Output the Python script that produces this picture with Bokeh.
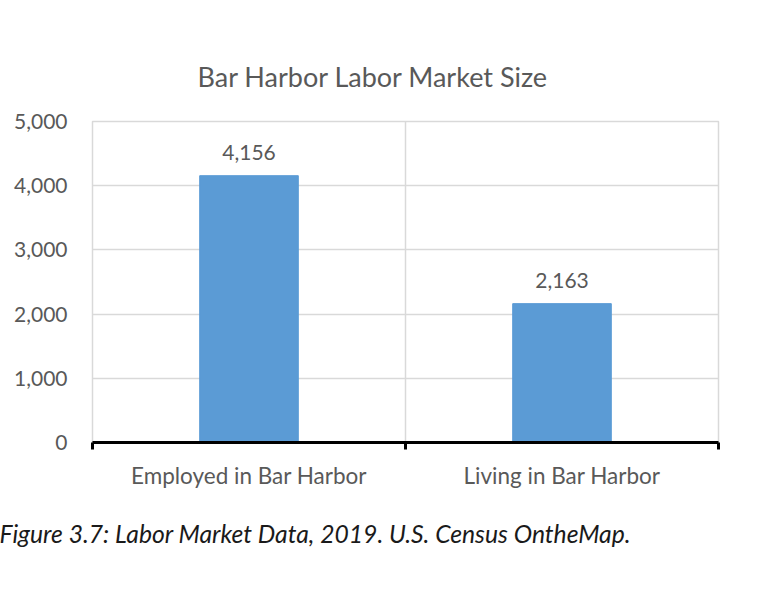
from bokeh.plotting import figure
from bokeh.models import (Range1d, FixedTicker, NumeralTickFormatter, LabelSet,
                          ColumnDataSource, Title, LinearAxis, Grid)
from bokeh.core.properties import value
from bokeh.embed import file_html
from bokeh.resources import INLINE
import numpy as np

categories = ["Employed in Bar Harbor", "Living in Bar Harbor"]
values = [4156, 2163]
y_ticks = [0, 1000, 2000, 3000, 4000, 5000]
title_text = "Bar Harbor Labor Market Size"
caption_text = "Figure 3.7: Labor Market Data, 2019. U.S. Census OntheMap."

FONT = "Lato"
GREY = "#595959"
BAR = "#5B9BD5"
GRID = "#D9D9D9"

n = len(categories)
centers = list(np.arange(n) + 0.5)
bounds = list(np.arange(n + 1).astype(float))

src = ColumnDataSource(dict(x=centers, top=values,
                            label=[f"{v:,}" for v in values]))

p = figure(width=760, height=600, output_backend="svg", toolbar_location=None,
           x_range=Range1d(0, n), y_range=Range1d(0, 5000),
           min_border_left=92, min_border_right=42, min_border_top=121,
           min_border_bottom=158, x_axis_type=None, y_axis_type=None)
p.outline_line_color = GRID
p.outline_line_width = 1.5
p.background_fill_color = "white"
p.border_fill_color = "white"

p.add_layout(Grid(dimension=1, ticker=FixedTicker(ticks=y_ticks),
                  grid_line_color=GRID, grid_line_width=1.5))
p.add_layout(Grid(dimension=0, ticker=FixedTicker(ticks=bounds),
                  grid_line_color=GRID, grid_line_width=1.5))

p.vbar(x="x", top="top", width=0.315, bottom=0, source=src, color=BAR)

# y axis
yax = LinearAxis(ticker=FixedTicker(ticks=y_ticks),
                 formatter=NumeralTickFormatter(format="0,0"))
yax.axis_line_color = None
yax.major_tick_line_color = None
yax.minor_tick_line_color = None
yax.major_tick_out = 0
yax.major_tick_in = 0
yax.major_label_standoff = 25
yax.major_label_text_font = FONT
yax.major_label_text_font_size = "21px"
yax.major_label_text_color = GREY
p.add_layout(yax, "left")

# x axis
xax = LinearAxis(ticker=FixedTicker(ticks=centers, minor_ticks=bounds))
xax.major_label_overrides = {c: lab for c, lab in zip(centers, categories)}
xax.axis_line_color = "black"
xax.axis_line_width = 3
xax.major_tick_line_color = None
xax.major_tick_out = 0
xax.major_tick_in = 0
xax.minor_tick_line_color = "black"
xax.minor_tick_line_width = 3
xax.minor_tick_out = 7
xax.minor_tick_in = 0
xax.major_label_standoff = 12
xax.major_label_text_font = FONT
xax.major_label_text_font_size = "22.5px"
xax.major_label_text_color = GREY
p.add_layout(xax, "below")

labels = LabelSet(x="x", y="top", text="label", source=src, y_offset=23,
                  text_align="center", text_baseline="middle",
                  text_font=value(FONT), text_font_size=value("21px"),
                  text_color=GREY)
p.add_layout(labels)

p.title = Title(text=title_text, align="left", offset=105, standoff=58,
                text_font=FONT, text_font_size="27px", text_color=GREY,
                text_font_style="normal")

cap = Title(text=caption_text, align="left", offset=-93, standoff=50,
            text_font=FONT, text_font_style="italic", text_font_size="24.7px",
            text_color="#1a1a1a")
p.add_layout(cap, "below")

open("out.html", "w").write(file_html(p, INLINE))
